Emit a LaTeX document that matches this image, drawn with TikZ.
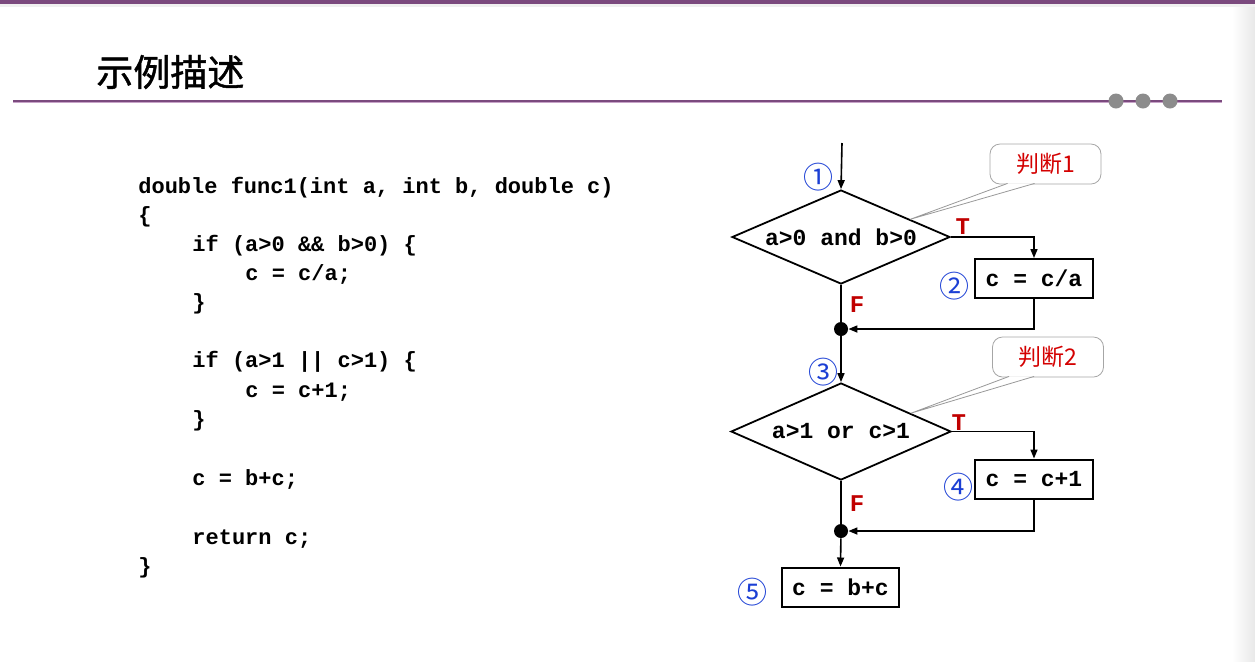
\documentclass[tikz,border=0pt]{standalone}
\usepackage{fontspec}
\usetikzlibrary{shapes.geometric,arrows.meta,calc,positioning}
\newfontfamily\cjk{Noto Sans CJK SC}
\newfontfamily\titlefont[FakeBold=1.2]{Noto Sans CJK SC}
\newfontfamily\codefont{Liberation Mono}
\definecolor{slidepurple}{HTML}{7B4A7E}
\definecolor{rulepink}{HTML}{C7A3C8}
\definecolor{numblue}{HTML}{1B3FD4}
\definecolor{tfred}{HTML}{C00000}
\definecolor{notered}{HTML}{D40000}
\definecolor{dotgray}{HTML}{8C8C8C}
\begin{document}
\begin{tikzpicture}[
    x=0.5pt, y=-0.5pt,
    codeline/.style={anchor=base west, inner sep=0pt,
      font=\codefont\bfseries\fontsize{11pt}{13pt}\selectfont},
    decision/.style={diamond, draw, line width=0.9pt, inner sep=0pt, aspect=2.32,
      font=\codefont\bfseries\fontsize{11.5pt}{13pt}\selectfont},
    process/.style={rectangle, draw, line width=1pt, minimum width=59pt,
      minimum height=19.5pt, inner sep=0pt,
      font=\codefont\bfseries\fontsize{11.5pt}{13pt}\selectfont},
    joint/.style={circle, fill, minimum size=7pt, inner sep=0pt},
    flow/.style={line width=0.8pt, -{Triangle[length=4.5pt,width=3.5pt]}},
    link/.style={line width=0.8pt},
    tflabel/.style={text=tfred, inner sep=0pt,
      font=\codefont\bfseries\fontsize{12pt}{14pt}\selectfont},
    stepnum/.style={text=numblue, inner sep=0pt,
      font=\cjk\fontsize{15pt}{17pt}\selectfont},
    note/.style={draw=gray!70, line width=0.4pt, rounded corners=5pt, fill=white,
      minimum width=55.5pt, minimum height=20pt, inner sep=0pt, text=notered,
      font=\cjk\fontsize{11.5pt}{13pt}\selectfont},
    pointer/.style={draw=gray!80, line width=0.4pt, fill=white}
  ]
  \useasboundingbox (0,0) rectangle (1255,661);

  % slide frame
  \fill[slidepurple] (0,0) rectangle (1255,4);
  \fill[gray!12] (0,4) rectangle (1255,7);
  \shade[left color=white, right color=gray!18] (1232,7) rectangle (1255,661);
  \draw[slidepurple, line width=1pt] (13,100.5) -- (1222,100.5);
  \draw[rulepink, line width=0.8pt] (13,102.6) -- (1222,102.6);
  \foreach \dx in {1116,1143,1170}
    \fill[dotgray] (\dx,101) circle (7.5);
  \node[anchor=west, inner sep=0pt, font=\titlefont\fontsize{18.5pt}{22pt}\selectfont]
    (title) at (96,72) {示例描述};

  % source code
  \foreach \i/\xx/\yy/\txt in {
      1/138/186/{double func1(int a, int b, double c)},
      2/138/215/{\{},
      3/192/244/{if (a>0 \&\& b>0) \{},
      4/245/273/{c = c/a;},
      5/192/302/{\}},
      6/192/360/{if (a>1 || c>1) \{},
      7/245/390/{c = c+1;},
      8/192/419/{\}},
      9/192/478/{c = b+c;},
      10/192/537/{return c;},
      11/138/566/{\}}}
    \node[codeline] (code\i) at (\xx,\yy+7) {\txt};

  % flow graph
  \coordinate (entry) at (842,143);
  \node[decision, minimum width=109pt, minimum height=47pt] (d1) at (841,237) {a>0 and b>0};
  \node[process] (b1) at (1034,278.5) {c = c/a};
  \node[joint] (dot1) at (841,329) {};
  \node[decision, minimum width=110pt, minimum height=48.5pt] (d2) at (841,431.5) {a>1 or c>1};
  \node[process] (b2) at (1034,479) {c = c+1};
  \node[joint] (dot2) at (841,531) {};
  \node[process, minimum width=58.5pt] (b3) at (840.5,587) {c = b+c};

  \draw[flow] (entry) -- (d1.north);
  \draw[flow] (d1.east) -| (b1.north);
  \draw[link] (d1.south) -- (dot1);
  \draw[flow] (b1.south) |- (dot1);
  \draw[flow] (dot1) -- (d2.north);
  \draw[flow] (d2.east) -| (b2.north);
  \draw[link] (d2.south) -- (dot2);
  \draw[flow] (b2.south) |- (dot2);
  \draw[flow] (dot2) -- (b3.north);

  \node[tflabel] (t1) at ($(d1.east)+(12,-10)$) {T};
  \node[tflabel] (f1) at ($(d1.south)+(16,20)$) {F};
  \node[tflabel] (t2) at ($(d2.east)+(7,-9)$) {T};
  \node[tflabel] (f2) at ($(d2.south)+(16,23)$) {F};

  \node[stepnum] (n1) at (818,177) {①};
  \node[stepnum] (n2) at (954,286) {②};
  \node[stepnum] (n3) at (823,372) {③};
  \node[stepnum] (n4) at (958,487) {④};
  \node[stepnum] (n5) at (752,592) {⑤};

  % notes
  \node[note] (j1) at (1045.5,164) {判断1};
  \path[pointer] ($(j1.south west)+(18,-1)$) -- ($(d1.north)!0.63!(d1.east)$)
    -- ($(j1.south west)+(45,-1)$);
  \node[note] (j2) at (1048,357) {判断2};
  \path[pointer] ($(j2.south west)+(17,-1)$) -- ($(d2.north)!0.63!(d2.east)$)
    -- ($(j2.south west)+(42,-1)$);
\end{tikzpicture}
\end{document}
